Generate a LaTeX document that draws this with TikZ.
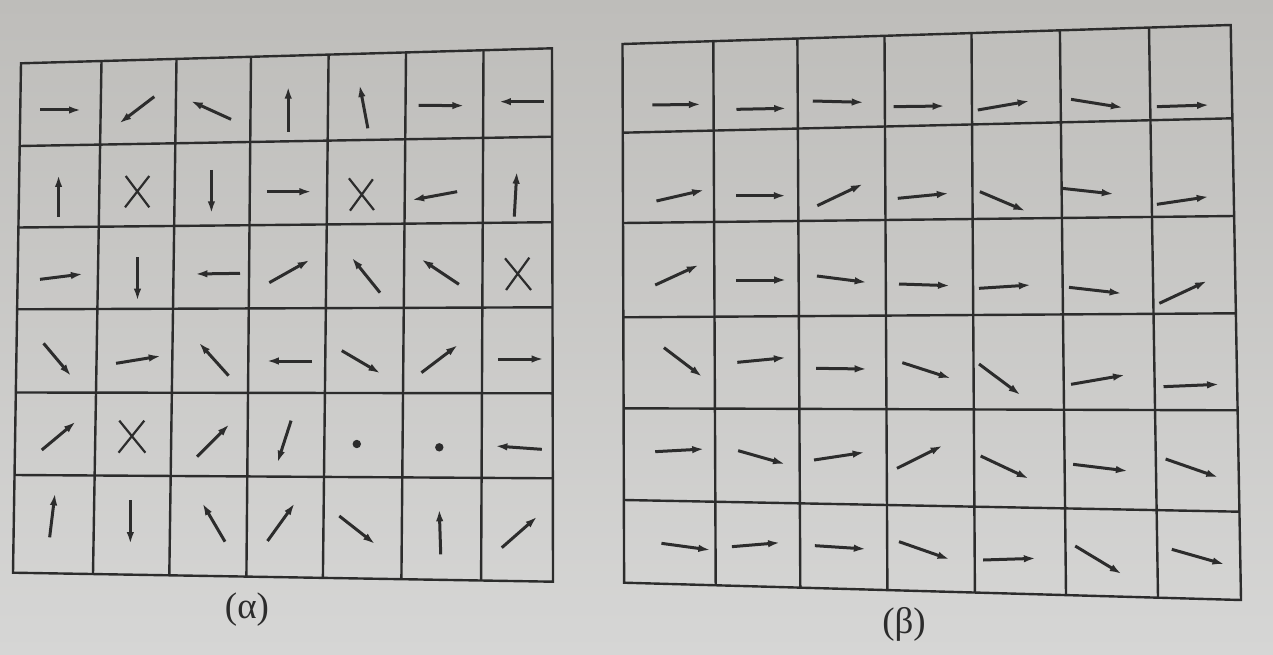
\documentclass[tikz,border=0pt]{standalone}
\usepackage{fontspec}
\setmainfont{Liberation Serif}
\usetikzlibrary{arrows.meta}
\definecolor{ink}{RGB}{44,44,44}
\definecolor{papertop}{RGB}{190,189,186}
\definecolor{paperbot}{RGB}{214,214,213}
\tikzset{
  gridline/.style={draw=ink, line width=2.4pt, line join=miter},
  vec/.style={draw=ink, line width=3pt, -{Latex[length=12pt,width=7.5pt]}},
  cross/.style={draw=ink, line width=2.2pt},
  lab/.style={font=\fontsize{37}{40}\selectfont, text=ink, inner sep=0pt}
}
\begin{document}
\begin{tikzpicture}[x=1pt,y=-1pt]
\useasboundingbox (0,0) rectangle (1273,655);
\shade[top color=papertop,bottom color=paperbot] (0,0) rectangle (1273,655);

% ---------- grid (alpha) ----------
\draw[gridline] (21,63.3) -- (552,48.3) -- (553,581.7) -- (13,572.7) -- cycle;
\foreach \xa/\ya/\xb/\yb in {101.5/61.0/93/574.0, 176.5/58.9/169.3/575.3, 251/56.8/246.4/576.6,
  328.6/54.6/322.9/577.9, 406/52.4/401.4/579.2, 483.5/50.2/481.1/580.5}
  \draw[gridline] (\xa,\ya) -- (\xb,\yb);
\foreach \xa/\ya/\xb/\yb in {19.7/146/552.2/136.7, 18.4/227.5/552.3/222.2, 17.1/309.3/552.5/307.3,
  15.8/392.5/552.6/393.3, 14.5/475/552.8/478.3}
  \draw[gridline] (\xa,\ya) -- (\xb,\yb);

% rows 1-2
\begin{scope}[shift={(15,40)}, xscale=0.357143, yscale=0.333333]
  \foreach \p/\q in {{(70,210)}/{(185,210)}, {(390,170)}/{(292,250)}, {(605,238)}/{(492,183)},
    {(765,275)}/{(765,140)}, {(988,265)}/{(965,135)}, {(1130,196)}/{(1258,197)}, {(1480,185)}/{(1355,185)},
    {(122,530)}/{(122,405)}, {(550,390)}/{(550,520)}, {(705,455)}/{(830,455)},
    {(1238,455)}/{(1112,480)}, {(1398,530)}/{(1405,395)}}
    \draw[vec] \p -- \q;
  \draw[cross] (310,408) -- (376,502) (376,408) -- (308,502);
  \draw[cross] (935,415) -- (1005,510) (1002,418) -- (938,512);
\end{scope}
% rows 3-4
\begin{scope}[shift={(15,220)}, xscale=0.357143, yscale=0.333333]
  \foreach \p/\q in {{(70,178)}/{(190,162)}, {(343,112)}/{(343,242)}, {(630,160)}/{(505,162)},
    {(712,188)}/{(825,120)}, {(1022,218)}/{(943,113)}, {(1243,193)}/{(1138,118)},
    {(80,370)}/{(157,468)}, {(283,430)}/{(408,408)}, {(598,467)}/{(515,368)},
    {(832,423)}/{(705,423)}, {(915,392)}/{(1023,460)}, {(1138,458)}/{(1240,375)}, {(1352,417)}/{(1480,417)}}
    \draw[vec] \p -- \q;
  \draw[cross] (1372,115) -- (1445,210) (1440,113) -- (1375,210);
\end{scope}
% rows 5-6
\begin{scope}[shift={(15,390)}, xscale=0.357143, yscale=0.333333]
  \foreach \p/\q in {{(75,180)}/{(170,95)}, {(510,200)}/{(600,103)}, {(773,92)}/{(735,218)},
    {(1475,178)}/{(1345,168)},
    {(97,442)}/{(112,310)}, {(323,330)}/{(323,462)}, {(588,455)}/{(525,340)},
    {(707,453)}/{(783,340)}, {(908,378)}/{(1008,462)}, {(1192,493)}/{(1188,358)}, {(1363,473)}/{(1462,380)}}
    \draw[vec] \p -- \q;
  \draw[cross] (292,92) -- (365,188) (362,92) -- (290,188);
\end{scope}
\fill[ink] (356.8,444) circle (4.2pt);
\fill[ink] (439.3,447.3) circle (4.2pt);

% ---------- grid (beta) ----------
\draw[gridline] (622.5,44) -- (1230.7,25) -- (1241,600) -- (624.1,582.7) -- cycle;
\foreach \xa/\ya/\xb/\yb in {713.3/41.2/715.7/585.3, 797.4/38.5/800.3/587.6, 884.5/35.8/887.4/590.1,
  971.5/33.1/974.9/592.5, 1059.9/30.3/1066/595.1, 1149/27.5/1158/597.7}
  \draw[gridline] (\xa,\ya) -- (\xb,\yb);
\foreach \xa/\ya/\xb/\yb in {622.8/132.7/1232.4/118.3, 623.0/223/1234.4/216, 623.3/317.3/1235.9/313.3,
  623.6/408.3/1237.6/410.3, 623.9/500/1239.4/511.7}
  \draw[gridline] (\xa,\ya) -- (\xb,\yb);

\begin{scope}[shift={(615,20)}, xscale=0.414594, yscale=0.333333]
  \foreach \p/\q in {{(90,255)}/{(207,253)}, {(293,268)}/{(413,265)}, {(477,243)}/{(600,247)},
    {(672,260)}/{(795,258)}, {(875,270)}/{(1000,243)}, {(1100,238)}/{(1225,263)}, {(1307,260)}/{(1433,255)},
    {(100,543)}/{(215,510)}, {(292,527)}/{(412,527)}, {(488,557)}/{(598,492)},
    {(682,535)}/{(805,520)}, {(880,515)}/{(990,573)}, {(1078,505)}/{(1203,522)}, {(1307,553)}/{(1432,530)}}
    \draw[vec] \p -- \q;
\end{scope}
\begin{scope}[shift={(615,210)}, xscale=0.414594, yscale=0.333333]
  \foreach \p/\q in {{(97,225)}/{(202,165)}, {(293,210)}/{(413,210)}, {(487,198)}/{(607,217)},
    {(685,222)}/{(808,227)}, {(878,235)}/{(1003,225)}, {(1095,232)}/{(1222,250)}, {(1313,280)}/{(1428,213)},
    {(118,413)}/{(210,500)}, {(295,457)}/{(412,443)}, {(485,475)}/{(607,477)},
    {(693,458)}/{(810,505)}, {(878,462)}/{(978,555)}, {(1100,523)}/{(1230,495)}, {(1323,530)}/{(1457,523)}}
    \draw[vec] \p -- \q;
\end{scope}
\begin{scope}[shift={(615,400)}, xscale=0.414594, yscale=0.333333]
  \foreach \p/\q in {{(97,155)}/{(215,147)}, {(297,152)}/{(410,192)}, {(480,180)}/{(602,157)},
    {(680,205)}/{(790,137)}, {(882,168)}/{(998,236)}, {(1105,193)}/{(1237,213)}, {(1328,177)}/{(1455,232)},
    {(112,430)}/{(230,450)}, {(282,440)}/{(398,428)}, {(482,437)}/{(605,447)},
    {(685,425)}/{(807,478)}, {(888,480)}/{(1015,475)}, {(1110,438)}/{(1222,522)}, {(1343,448)}/{(1470,493)}}
    \draw[vec] \p -- \q;
\end{scope}

\node[lab] (alpha) at (247,610) {(α)};
\node[lab] (beta) at (904,624) {(β)};
\end{tikzpicture}
\end{document}
